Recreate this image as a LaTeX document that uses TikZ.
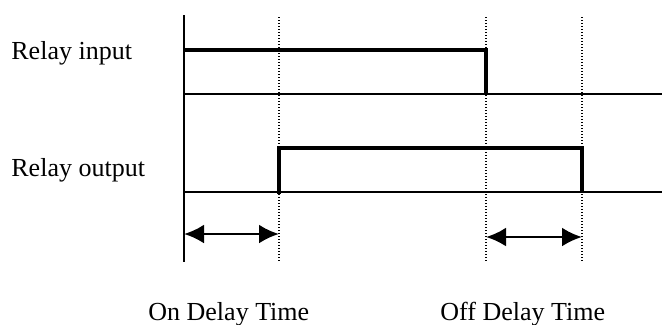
\documentclass[tikz,border=0pt]{standalone}
\usepackage{fontspec}
\setmainfont{Liberation Serif}
\usetikzlibrary{arrows.meta,positioning}
\tikzset{
  eje/.style={line width=1bp},
  linea/.style={line width=1.1bp},
  senal/.style={line width=2bp},
  guia/.style={line width=0.8bp, dash pattern=on 0.7bp off 0.8bp},
  flecha/.style={{Latex[length=10bp,width=9.5bp]}-{Latex[length=10bp,width=9.5bp]}, line width=1.4bp},
  etiq/.style={anchor=base west, inner sep=0pt, font=\fontsize{13bp}{15bp}\selectfont},
}

\begin{document}
\begin{tikzpicture}[x=0.5bp, y=-0.5bp]
\useasboundingbox (0,0) rectangle (662,324);
\node[etiq] (in) at (11,59) {Relay input};
\node[etiq] (out) at (11,176) {Relay output};
\node[etiq] (ondelay) at (148,320) {On Delay Time};
\node[etiq] (offdelay) at (440,320) {Off Delay Time};
\draw[eje] (184,15) -- (184,262);
\foreach \x in {279,486,582}
  \draw[guia] (\x,17) -- (\x,262);
\draw[linea] (184,94) -- (662,94);
\draw[linea] (184,192) -- (662,192);
\draw[senal] (184,50) -- (486,50) -- (486,94);
\draw[senal] (279,194) -- (279,148) -- (582,148) -- (582,192);
\coordinate (on1) at (184,234);
\coordinate (on2) at (279,234);
\coordinate (off1) at (486,237);
\coordinate (off2) at (582,237);
\draw[flecha] (on1) -- (on2);
\draw[flecha] (off1) -- (off2);
\end{tikzpicture}
\end{document}
